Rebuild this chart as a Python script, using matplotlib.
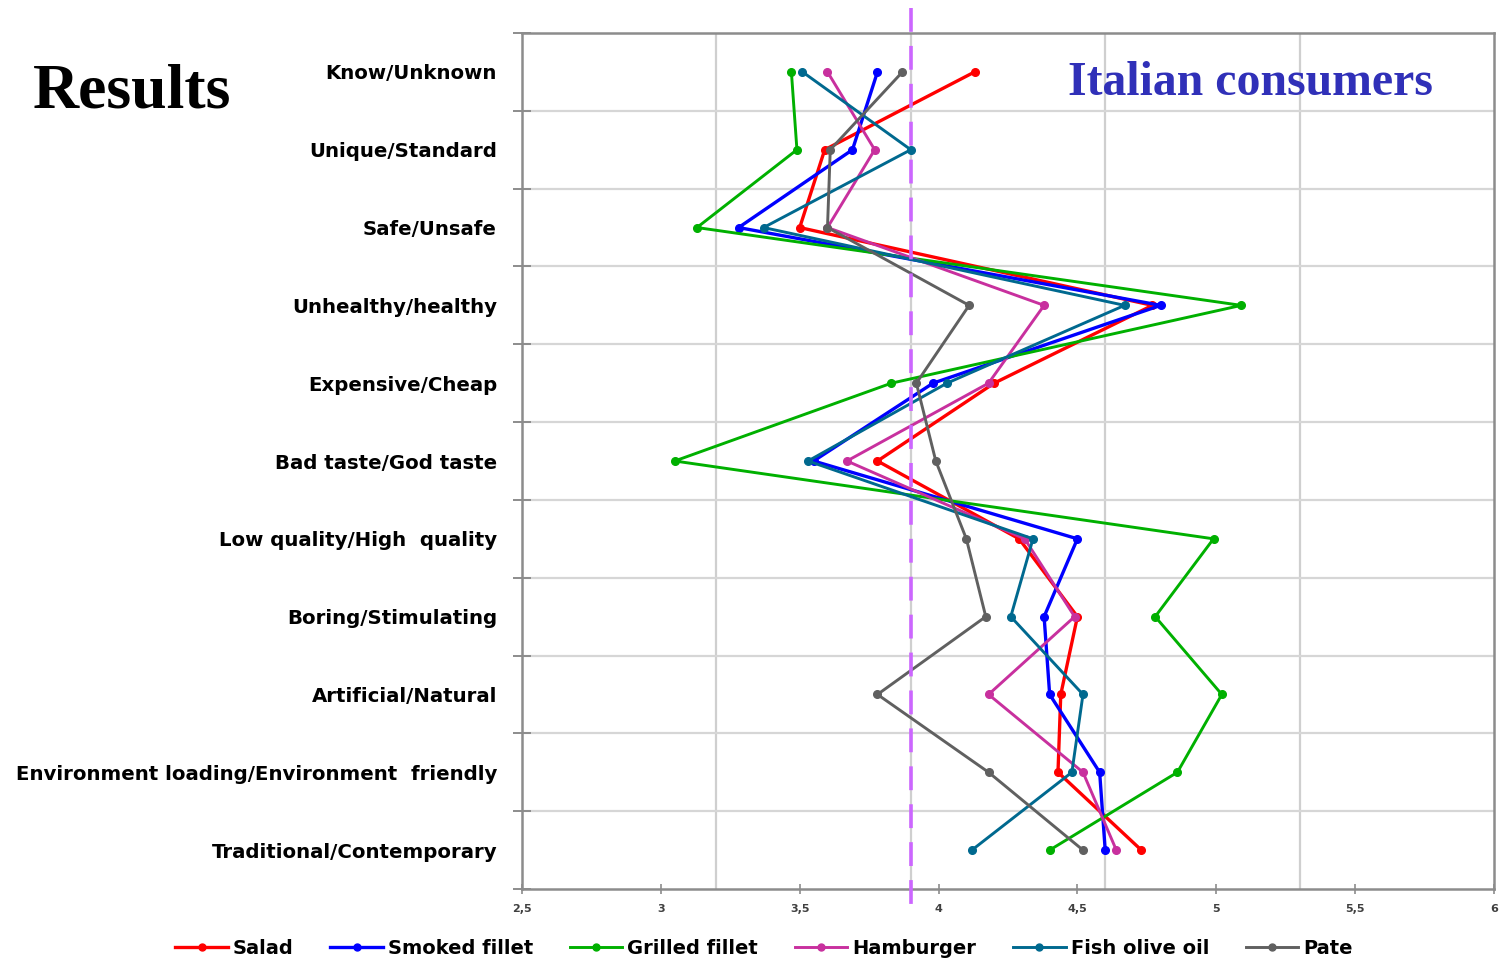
import matplotlib
matplotlib.use("Agg")
import matplotlib.pyplot as plt
from matplotlib.lines import Line2D

# Semantic differential pairs (top to bottom)
attributes = [
    "Know/Unknown",
    "Unique/Standard",
    "Safe/Unsafe",
    "Unhealthy/healthy",
    "Expensive/Cheap",
    "Bad taste/God taste",
    "Low quality/High  quality",
    "Boring/Stimulating",
    "Artificial/Natural",
    "Environment loading/Environment  friendly",
    "Traditional/Contemporary",
]

# Mean scores per product
salad         = [4.13, 3.59, 3.50, 4.77, 4.20, 3.78, 4.29, 4.50, 4.44, 4.43, 4.73]
smoked_fillet = [3.78, 3.69, 3.28, 4.80, 3.98, 3.55, 4.50, 4.38, 4.40, 4.58, 4.60]
grilled_fillet= [3.47, 3.49, 3.13, 5.09, 3.83, 3.05, 4.99, 4.78, 5.02, 4.86, 4.40]
hamburger     = [3.60, 3.77, 3.60, 4.38, 4.18, 3.67, 4.31, 4.49, 4.18, 4.52, 4.64]
fish_olive_oil= [3.51, 3.90, 3.37, 4.67, 4.03, 3.53, 4.34, 4.26, 4.52, 4.48, 4.12]
pate          = [3.87, 3.61, 3.60, 4.11, 3.92, 3.99, 4.10, 4.17, 3.78, 4.18, 4.52]

series_names = ["Salad", "Smoked fillet", "Grilled fillet", "Hamburger", "Fish olive oil", "Pate"]
series_values = [salad, smoked_fillet, grilled_fillet, hamburger, fish_olive_oil, pate]
series_colors = ["#FF0000", "#0000FF", "#00B000", "#C8309E", "#00698F", "#606060"]
series_widths = [2.4, 2.4, 2.1, 2.1, 2.1, 2.1]

x_ticks = [2.5, 3, 3.5, 4, 4.5, 5, 5.5, 6]
x_tick_labels = ["2,5", "3", "3,5", "4", "4,5", "5", "5,5", "6"]
x_grid = [3.2, 3.9, 4.6, 5.3]
reference_value = 3.9

fig = plt.figure(figsize=(15.10, 9.61), dpi=100)
ax = fig.add_axes([522 / 1510, 1 - 889 / 961, (1494 - 522) / 1510, (889 - 33) / 961])

n = len(attributes)
ypos = list(range(n))

for name, vals, col, lw in zip(series_names, series_values, series_colors, series_widths):
    ax.plot(vals, ypos, color=col, lw=lw, marker="o", markersize=5.5,
            markeredgecolor=col, markerfacecolor=col, label=name, zorder=3)

ax.set_xlim(2.5, 6)
ax.set_ylim(n - 0.5, -0.5)

# grid lines
for gx in x_grid:
    ax.axvline(gx, color="#CFCFCF", lw=1.6, zorder=1)
boundaries = [i + 0.5 for i in range(-1, n)]
for b in boundaries[1:-1]:
    ax.axhline(b, color="#D6D6D6", lw=1.6, zorder=1)

# reference dashed line, drawn top to bottom so the dash pattern starts at the top
ax.plot([reference_value, reference_value], [1.029, -0.02], transform=ax.get_xaxis_transform(),
        color="#CC66FF", lw=2.6, dashes=(6.6, 3.9), clip_on=False, zorder=4)

# y axis: labels at centres, ticks at boundaries
ax.set_yticks(boundaries)
ax.set_yticklabels([])
ax.tick_params(axis="y", which="major", direction="inout", length=13, width=1.4, color="#8C8C8C")
ax.set_yticks(ypos, minor=True)
ax.set_yticklabels(attributes, minor=True, fontsize=14.2, fontweight="bold",
                   family="DejaVu Sans")
ax.tick_params(axis="y", which="minor", length=0, pad=18)

ax.set_xticks(x_ticks)
ax.set_xticklabels(x_tick_labels, fontsize=8, color="#404040", fontweight="bold")
ax.tick_params(axis="x", direction="inout", length=7, width=1.2, color="#8C8C8C", pad=7)

for sp in ax.spines.values():
    sp.set_color("#8C8C8C")
    sp.set_linewidth(1.8)

# titles
fig.text(33 / 1510, 1 - 107 / 961, "Results", family="Liberation Serif", fontweight="bold",
         fontsize=46, color="black", va="baseline", ha="left")
ax.text(1068 / 1510, 1 - 95 / 961, "Italian consumers", transform=fig.transFigure,
        family="Liberation Serif", fontweight="bold", fontsize=34.4, color="#3030B8",
        va="baseline", ha="left", zorder=5)

handles = [Line2D([0], [0], color=c, lw=w, marker="o", markersize=5, markerfacecolor=c,
                  markeredgecolor=c) for c, w in zip(series_colors, series_widths)]
leg = fig.legend(handles, series_names, loc="center", bbox_to_anchor=(764 / 1510, 1 - 948 / 961),
                 ncol=6, frameon=False, handlelength=2.7, handletextpad=0.25, columnspacing=1.9,
                 prop={"family": "DejaVu Sans", "weight": "bold", "size": 14})

fig.savefig("out.png", dpi=100)
